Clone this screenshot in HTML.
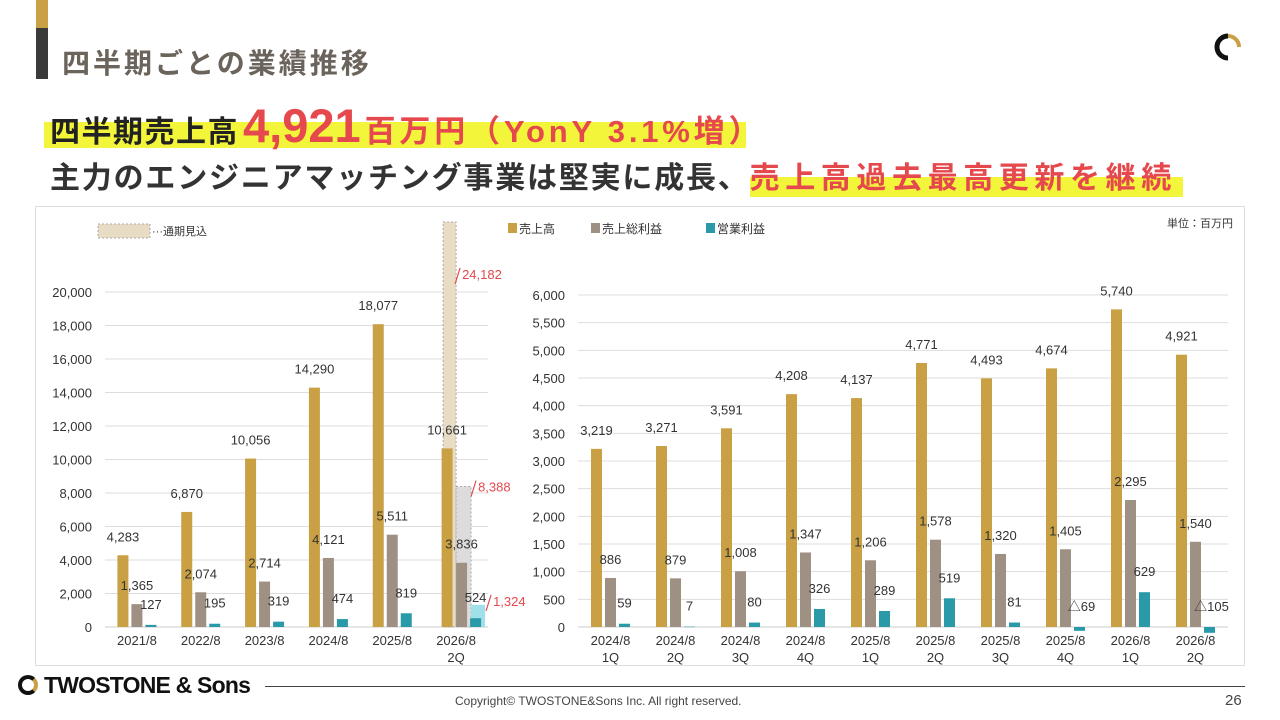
<!DOCTYPE html>
<html><head><meta charset="utf-8">
<style>
body{margin:0;width:1280px;height:720px;background:#fff;position:relative;overflow:hidden;font-family:"Liberation Sans","Noto Sans CJK JP",sans-serif;}
.abs{position:absolute;}
</style></head><body>
<div class="abs" style="left:36px;top:0;width:12px;height:28px;background:#c9a043"></div>
<div class="abs" style="left:36px;top:28px;width:12px;height:51px;background:#3a3a3a"></div>
<div class="abs" style="left:62px;top:42px;font-size:28px;font-weight:bold;color:#6b645c;letter-spacing:3px">四半期ごとの業績推移</div>
<svg class="abs" style="left:1206px;top:28px" width="40" height="36"><path d="M22 8 A11 11 0 1 0 22 30" fill="none" stroke="#111" stroke-width="5"/><path d="M22 8 A11 11 0 0 1 33 19" fill="none" stroke="#c9a043" stroke-width="4"/></svg>

<div class="abs" style="left:44px;top:122px;width:702px;height:26px;background:#f2f53a"></div>
<div class="abs" style="left:50px;top:98px;white-space:nowrap;font-weight:bold;">
<span style="font-size:30px;color:#222;letter-spacing:1.5px">四半期売上高</span><span style="font-size:47px;color:#e5484d;margin-left:4px">4,921</span><span style="font-size:31px;color:#e5484d;letter-spacing:3.8px;margin-left:4px">百万円（YonY 3.1%増）</span></div>
<div class="abs" style="left:750px;top:177px;width:433px;height:20px;background:#f2f53a"></div>
<div class="abs" style="left:50px;top:153px;white-space:nowrap;font-weight:bold;font-size:30px;letter-spacing:1.8px;color:#333">主力のエンジニアマッチング事業は堅実に成長、<span style="color:#e5484d;letter-spacing:5.6px">売上高過去最高更新を継続</span></div>

<div class="abs" style="left:35px;top:206px;width:1210px;height:460px;border:1px solid #ddd;box-sizing:border-box"></div>
<svg class="abs" id="charts" style="left:0;top:0" width="1280" height="720" font-family="Liberation Sans, Noto Sans CJK JP, sans-serif"></svg>

<div class="abs" style="left:18px;top:672px;font-size:23px;font-weight:bold;color:#111;white-space:nowrap;letter-spacing:-0.8px"><span style="display:inline-block;width:20px;height:20px;border:4px solid #111;border-right-color:#c9a043;border-radius:50%;box-sizing:border-box;vertical-align:-2px;margin-right:6px"></span>TWOSTONE &amp; Sons</div>
<div class="abs" style="left:265px;top:686px;width:980px;height:1px;background:#444"></div>
<div class="abs" style="left:455px;top:694px;font-size:12px;color:#444">Copyright© TWOSTONE&amp;Sons Inc. All right reserved.</div>
<div class="abs" style="left:1225px;top:692px;font-size:15px;color:#444">26</div>

<script>
const annualCats=["2021/8","2022/8","2023/8","2024/8","2025/8","2026/8"];
const annualSales=[4283,6870,10056,14290,18077,10661];
const annualGross=[1365,2074,2714,4121,5511,3836];
const annualOp=[127,195,319,474,819,524];
const forecastSales=24182, forecastGross=8388, forecastOp=1324;
const annualTicks=[0,2000,4000,6000,8000,10000,12000,14000,16000,18000,20000];
const qCats=[["2024/8","1Q"],["2024/8","2Q"],["2024/8","3Q"],["2024/8","4Q"],["2025/8","1Q"],["2025/8","2Q"],["2025/8","3Q"],["2025/8","4Q"],["2026/8","1Q"],["2026/8","2Q"]];
const qSales=[3219,3271,3591,4208,4137,4771,4493,4674,5740,4921];
const qGross=[886,879,1008,1347,1206,1578,1320,1405,2295,1540];
const qOp=[59,7,80,326,289,519,81,-69,629,-105];
const qTicks=[0,500,1000,1500,2000,2500,3000,3500,4000,4500,5000,5500,6000];

const C={s:"#c9a043",g:"#9e9184",o:"#2a9aa8"};
const svg=document.getElementById('charts');
const NS="http://www.w3.org/2000/svg";
function el(t,a,txt){const e=document.createElementNS(NS,t);for(const k in a)e.setAttribute(k,a[k]);if(txt!==undefined)e.textContent=txt;svg.appendChild(e);return e;}
const fmt=v=>v<0?"△"+Math.abs(v).toLocaleString("en-US"):v.toLocaleString("en-US");

// left chart
const L={x0:105,x1:488,y0:627,max:20000,h:335};
const ly=v=>L.y0-v/L.max*L.h;
const lgw=(L.x1-L.x0)/annualCats.length;
const lx=i=>L.x0+lgw*(i+0.5);
annualTicks.forEach(t=>{
 const g=el('line',{x1:L.x0,x2:L.x1,y1:ly(t),y2:ly(t),stroke:t?"#ddd":"#ccc","stroke-width":1});
 
 const tx=el('text',{x:92,y:ly(t)+5,"text-anchor":"end","font-size":13,fill:"#333"},t.toLocaleString("en-US"));
 
});
const bw=11;
function bar(x,v,yf,col,name){
 const top=Math.min(yf(v),yf(0)),h=Math.abs(yf(v)-yf(0));
 const r=el('rect',{x:x-bw/2,y:top,width:bw,height:Math.max(h,0.5),fill:col});
 
}
function lab(x,y,t,name,col){const e=el('text',{x:x,y:y,"text-anchor":"middle","font-size":13,fill:col||"#333"},t);
 }
// forecast bars
const fc=lx(5);
{const c=fc;
 const f1=el('rect',{x:c-13,y:ly(forecastSales),width:13,height:ly(0)-ly(forecastSales),fill:"#e8dcc5",stroke:"#aaa","stroke-dasharray":"2,2"});
 
 const f2=el('rect',{x:c,y:ly(forecastGross),width:15,height:ly(0)-ly(forecastGross),fill:"#dcdcdc",stroke:"#aaa","stroke-dasharray":"2,2"});
 
 const f3=el('rect',{x:c+15,y:ly(forecastOp),width:14,height:ly(0)-ly(forecastOp),fill:"#9fe0ea"});
 
 [[forecastSales,c+6,52,"forecast-sales-label"],[forecastGross,c+22,0,"forecast-gross-label"],[forecastOp,c+37,-4,"forecast-op-label"]].forEach(([v,x,dy,n])=>{
  const y=ly(v)+dy;
  const s=el('line',{x1:x-7,y1:y+10,x2:x-2,y2:y-6,stroke:"#e5484d","stroke-width":1.2});
  
  const t=el('text',{x:x,y:y+5,"font-size":13,fill:"#e5484d"},v.toLocaleString("en-US"));
  
 });
}
annualCats.forEach((c,i)=>{
 const last=i==5;
 const xs=last?[fc-9,fc+5.5,fc+19.5]:[lx(i)-14,lx(i),lx(i)+14];
 bar(xs[0],annualSales[i],ly,C.s,'left-sales-bar');
 bar(xs[1],annualGross[i],ly,C.g,'left-gross-bar');
 bar(xs[2],annualOp[i],ly,C.o,'left-op-bar');
 lab(xs[0],ly(annualSales[i])-14,fmt(annualSales[i]),'left-sales-label');
 lab(xs[1],ly(annualGross[i])-14,fmt(annualGross[i]),'left-gross-label');
 lab(xs[2],ly(annualOp[i])-16,fmt(annualOp[i]),'left-op-label');
 lab(lx(i),645,c,'left-x-label');
 if(last)lab(lx(i),662,"2Q",'left-x-label');
});
// left legend
{const r=el('rect',{x:98,y:224,width:52,height:14,fill:"#e8dcc5",stroke:"#aaa","stroke-dasharray":"2,2"});
 
 const t=el('text',{x:152,y:235,"font-size":11,fill:"#333"},"···通期見込");
 }

// right chart
const R={x0:578,x1:1228,y0:627,max:6000,h:332};
const ry=v=>R.y0-v/R.max*R.h;
const rgw=(R.x1-R.x0)/qCats.length;
const rx=i=>R.x0+rgw*(i+0.5);
qTicks.forEach(t=>{
 const g=el('line',{x1:R.x0,x2:R.x1,y1:ry(t),y2:ry(t),stroke:t?"#ddd":"#ccc","stroke-width":1});
 
 const tx=el('text',{x:565,y:ry(t)+5,"text-anchor":"end","font-size":13,fill:"#333"},t.toLocaleString("en-US"));
 
});
qCats.forEach((c,i)=>{
 const cx=rx(i);
 bar(cx-14,qSales[i],ry,C.s,'right-sales-bar');
 bar(cx,qGross[i],ry,C.g,'right-gross-bar');
 bar(cx+14,qOp[i],ry,C.o,'right-op-bar');
 lab(cx-14,ry(qSales[i])-14,fmt(qSales[i]),'right-sales-label');
 lab(cx,ry(qGross[i])-14,fmt(qGross[i]),'right-gross-label');
 lab(cx+14+(qOp[i]<0?2:0),(qOp[i]<0?ry(0):ry(qOp[i]))-16,fmt(qOp[i]),'right-op-label');
 lab(cx,645,c[0],'right-x-label');lab(cx,662,c[1],'right-x-label');
});
// right legend
[[508,C.s,"売上高","legend-sales"],[591,C.g,"売上総利益","legend-gross"],[706,C.o,"営業利益","legend-op"]].forEach(([x,col,t,n])=>{
 const r=el('rect',{x:x,y:223,width:9,height:10,fill:col});
 const e=el('text',{x:x+11,y:233,"font-size":12,fill:"#333"},t);
});
{const u=el('text',{x:1233,y:227,"text-anchor":"end","font-size":11,fill:"#333"},"単位：百万円");
 }
</script>
</body></html>
